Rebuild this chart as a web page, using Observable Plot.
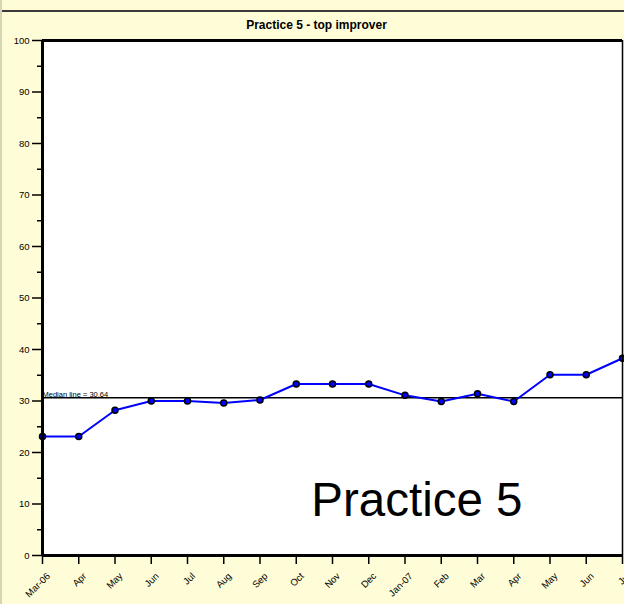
<!DOCTYPE html>
<html>
<head>
<meta charset="utf-8">
<script src="https://cdn.jsdelivr.net/npm/d3@7"></script>
<script src="https://cdn.jsdelivr.net/npm/@observablehq/plot@0.6"></script>
<style>
  html, body { margin: 0; padding: 0; background: #fffdd7; }
  #wrap { position: relative; width: 622px; height: 604px; overflow: hidden; background: #fffdd7; border-left: 2px solid #d6d6b4; }
  #topband { height: 10px; border-bottom: 2px solid #3a3a3a; }
  #chart svg { display: block; }
</style>
</head>
<body>
<div id="wrap">
  <div id="topband"></div>
  <div id="chart"></div>
</div>
<script>
const months = ["Mar-06","Apr","May","Jun","Jul","Aug","Sep","Oct","Nov","Dec","Jan-07","Feb","Mar","Apr","May","Jun","Jul"];
const values = [23.1,23.1,28.2,30.0,30.0,29.6,30.2,33.3,33.3,33.3,31.1,29.9,31.4,29.9,35.1,35.1,38.3];
const medianValue = 30.64;
const medianLabel = "Median line = 30.64";
const chartTitle = "Practice 5 - top improver";
const watermark = "Practice 5";
const yMajorTicks = [0,10,20,30,40,50,60,70,80,90,100];
const yMinorTicks = [5,15,25,35,45,55,65,75,85,95];

const data = values.map((v, i) => ({i, v}));
const idx = months.map((_, i) => i);
const font = "'Liberation Sans', Arial, sans-serif";

const chart = Plot.plot({
  width: 622,
  height: 592,
  marginTop: 28,
  marginLeft: 40,
  marginRight: 2,
  marginBottom: 49,
  style: {background: "transparent", fontFamily: font, color: "#000"},
  x: {domain: [0, months.length - 1]},
  y: {domain: [0, 100]},
  marks: [
    Plot.frame({fill: "white", stroke: null}),
    Plot.axisY({ticks: yMajorTicks, tickSize: 10, tickPadding: 3, fontSize: 9.5, label: null, strokeWidth: 1.5}),
    Plot.axisY({ticks: yMinorTicks, tickSize: 5, tickFormat: () => "", label: null, strokeWidth: 1.5}),
    Plot.axisX({ticks: idx, tickFormat: () => "", tickSize: 9, label: null, strokeWidth: 1.5}),
    Plot.axisX({ticks: idx, tickFormat: i => months[i], tickRotate: -45, tickSize: 0, tickPadding: 19, dx: 6, fontSize: 9.5, label: null}),
    Plot.ruleY([medianValue], {stroke: "#000", strokeWidth: 1.5}),
    Plot.text([medianLabel], {x: 0, y: medianValue, text: d => d, textAnchor: "start", lineAnchor: "bottom", dy: -1, fontSize: 7.5, letterSpacing: -0.3, fill: "#000"}),
    Plot.line(data, {x: "i", y: "v", stroke: "#0000ff", strokeWidth: 2}),
    Plot.dot(data, {x: "i", y: "v", r: 3, fill: "#0000ff", stroke: "#000", strokeWidth: 1.5}),
    Plot.ruleX([0], {stroke: "#000", strokeWidth: 3}),
    Plot.ruleY([0, 100], {stroke: "#000", strokeWidth: 3}),
    Plot.ruleX([months.length - 1], {stroke: "#000", strokeWidth: 1.5}),
    Plot.text([chartTitle], {frameAnchor: "top", text: d => d, lineAnchor: "bottom", dy: -12, dx: -16, fontSize: 12, fontWeight: "bold", letterSpacing: -0.1}),
    Plot.text([watermark], {frameAnchor: "bottom-right", text: d => d, textAnchor: "end", lineAnchor: "bottom", dx: -100, dy: -40, fontSize: 47.5})
  ]
});
document.getElementById("chart").appendChild(chart);
</script>
</body>
</html>
